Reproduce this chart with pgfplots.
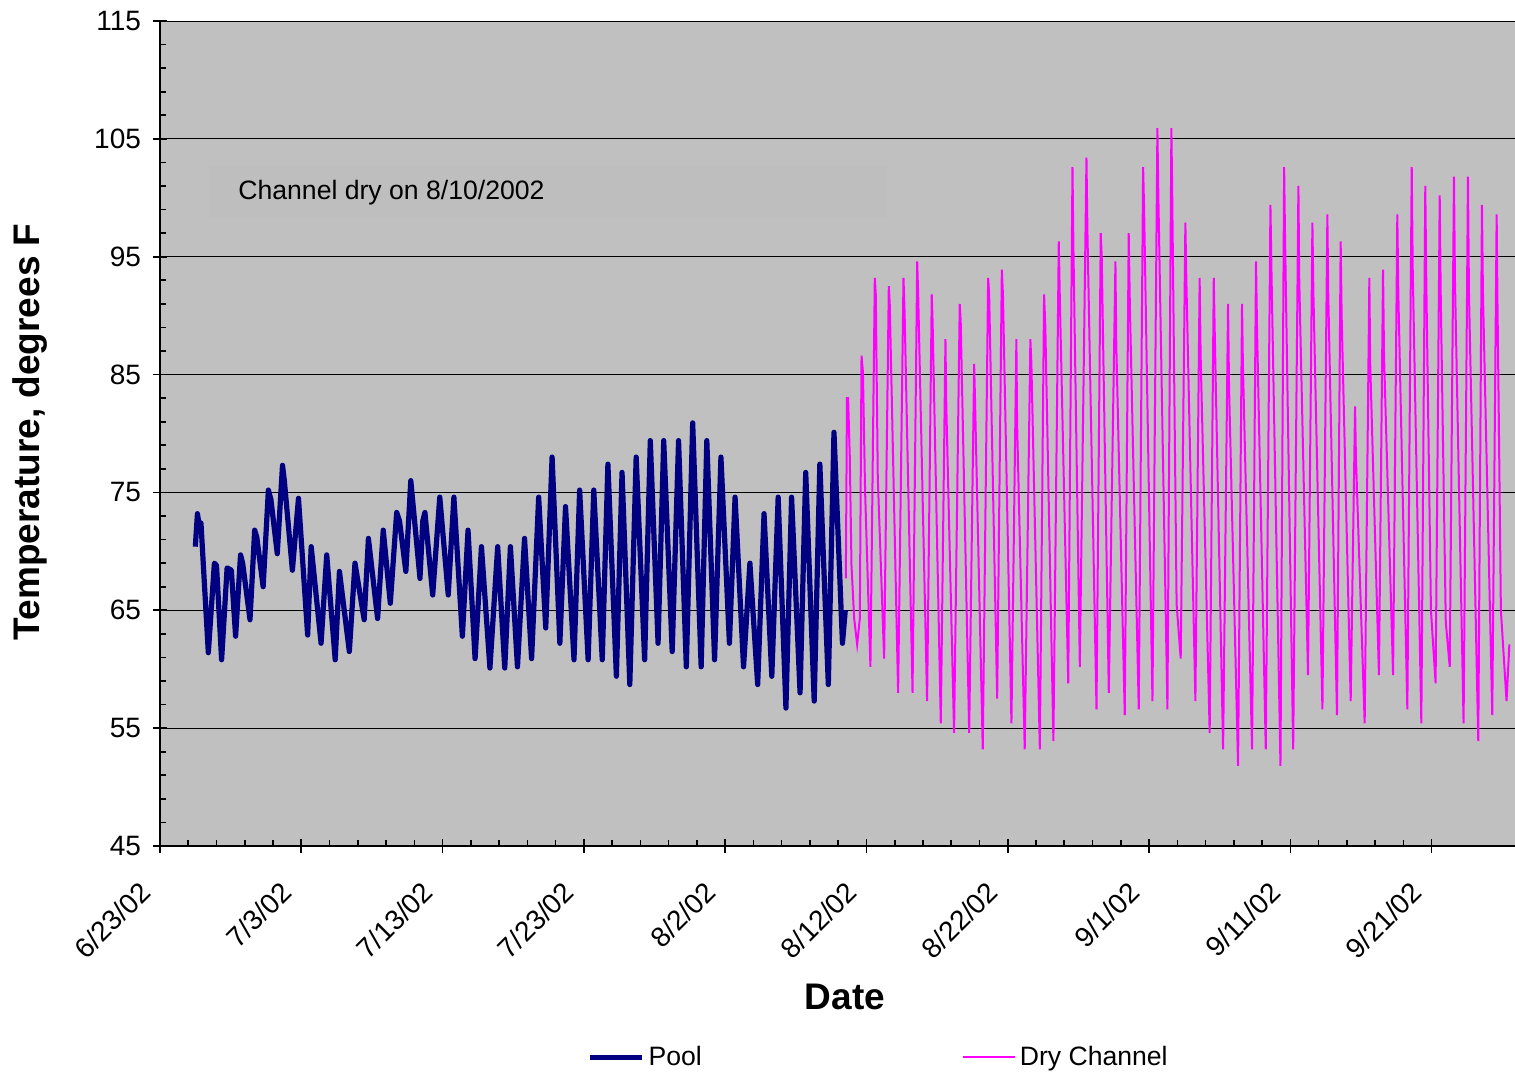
\documentclass[border=0pt]{standalone}
\usepackage{pgfplots}
\pgfplotsset{compat=1.18}
\usepackage{fontspec}
\setmainfont{Liberation Sans}
\definecolor{plotbg}{RGB}{192,192,192}
\definecolor{boxbg}{RGB}{190,190,190}
\definecolor{pool}{RGB}{0,0,128}
\definecolor{dry}{RGB}{255,0,255}
\begin{document}
\begin{tikzpicture}
\useasboundingbox (0pt,0pt) rectangle (757.5pt,535.5pt);
\begin{axis}[
  at={(80pt,112.5pt)}, anchor=south west,
  scale only axis, width=677.5pt, height=412.5pt,
  xmin=0, xmax=95.9, ymin=45, ymax=115,
  axis background/.style={fill=plotbg},
  axis x line=bottom, axis y line=left,
  axis line style={-, black, line width=1pt},
  xtick={0,10,...,90},
  xticklabels={6/23/02,7/3/02,7/13/02,7/23/02,8/2/02,8/12/02,8/22/02,9/1/02,9/11/02,9/21/02},
  ytick={45,55,...,115},
  minor x tick num=4, minor y tick num=4,
  tick align=inside,
  major tick length=3.5pt, minor tick length=3pt,
  tick style={black, line width=0.8pt},
  extra x ticks={0,10,...,90}, extra x tick labels={},
  extra x tick style={tick align=outside, grid=none},
  extra y ticks={45,55,...,115}, extra y tick labels={},
  extra y tick style={tick align=outside, grid=none},
  ymajorgrids, major grid style={black, line width=0.5pt},
  /pgf/number format/assume math mode=true,
  ticklabel style={font=\fontsize{14}{16}\selectfont},
  xticklabel style={xshift=-5pt, yshift=-18pt, rotate=45, anchor=east},
  yticklabel style={xshift=-6pt},
  xlabel={\textbf{Date}},
  ylabel={\textbf{Temperature, degrees F}},
  label style={font=\fontsize{18.5}{22}\selectfont},
  xlabel style={at={(axis description cs:0.5055,-0.183)}, anchor=center},
  ylabel style={at={(axis description cs:-0.096,0.502)}, anchor=center},
  legend style={at={(axis description cs:0.531,-0.256)}, anchor=center, draw=none, fill=none,
    font=\fontsize{13.3}{15}\selectfont,
    /tikz/every even column/.append style={column sep=128pt}},
  legend columns=2,
  legend image code/.code={\draw[#1] (0pt,0pt) -- (26pt,0pt);},
]
\fill[boxbg] (axis cs:3.47,102.8) rectangle (axis cs:51.44,98.3);
\node[anchor=west, font=\fontsize{13.3}{15}\selectfont, inner sep=0pt] at (axis cs:5.52,100.4) {Channel dry on 8/10/2002};
\addplot[pool, line width=2.6pt, line join=round] table {
2.50 70.4
2.65 73.2
2.80 72.0
2.90 72.4
3.42 61.4
3.85 69.0
4.00 68.8
4.36 60.8
4.75 68.6
5.05 68.4
5.35 62.8
5.70 69.7
5.85 69.0
6.37 64.2
6.70 71.8
6.85 71.2
7.30 67.0
7.67 75.2
7.85 74.4
8.30 69.8
8.67 77.3
8.80 76.0
9.37 68.4
9.80 74.5
10.45 62.9
10.70 70.4
11.40 62.2
11.80 69.7
12.40 60.8
12.70 68.3
13.40 61.5
13.80 69.0
14.45 64.2
14.75 71.1
15.40 64.3
15.80 71.8
16.30 65.6
16.75 73.3
16.95 72.6
17.40 68.3
17.75 76.0
18.40 67.7
18.60 72.6
18.75 73.3
19.30 66.3
19.80 74.6
20.40 66.3
20.80 74.6
21.40 62.8
21.80 71.8
22.30 60.9
22.75 70.4
23.35 60.1
23.90 70.4
24.40 60.1
24.80 70.4
25.30 60.2
25.80 71.1
26.30 60.9
26.80 74.6
27.30 63.5
27.75 78.0
28.30 62.2
28.70 73.8
29.30 60.8
29.70 75.2
30.30 60.8
30.70 75.2
31.30 60.8
31.70 77.4
32.30 59.4
32.70 76.7
33.25 58.7
33.70 78.0
34.30 60.8
34.70 79.4
35.25 62.2
35.65 79.4
36.25 61.5
36.70 79.4
37.25 60.2
37.70 80.9
38.30 60.2
38.70 79.4
39.25 60.8
39.70 78.0
40.30 62.2
40.70 74.6
41.30 60.2
41.75 69.0
42.30 58.7
42.75 73.2
43.30 59.4
43.75 74.6
44.30 56.7
44.70 74.6
45.30 58.0
45.70 76.7
46.30 57.3
46.70 77.4
47.30 58.7
47.70 80.1
48.30 62.2
48.50 65.0
};
\addlegendentry{Pool}
\addplot[dry, line width=1pt] table {
48.54 67.7
48.62 83.0
48.70 83.0
48.82 78.0
48.94 68.8
49.13 64.3
49.34 62.1
49.53 64.3
49.65 86.6
49.75 85.2
49.90 75.2
50.28 60.2
50.59 93.2
50.66 91.8
50.80 76.3
51.25 60.9
51.58 92.5
51.65 90.9
52.24 58.0
52.62 93.2
52.70 90.2
53.26 58.0
53.59 94.6
53.66 91.8
54.29 57.3
54.62 91.8
54.68 89.5
55.26 55.4
55.59 88.0
55.65 82.3
56.20 54.6
56.60 91.0
56.67 89.5
57.27 54.6
57.62 85.9
57.68 83.0
58.23 53.2
58.61 93.2
58.68 92.0
59.25 57.5
59.58 93.9
59.66 91.8
60.26 55.4
60.61 88.0
60.66 80.9
61.20 53.2
61.60 88.0
61.67 86.0
62.27 53.2
62.57 91.8
62.66 89.0
63.23 53.9
63.61 96.3
63.68 91.8
64.28 58.8
64.58 102.6
64.65 95.5
65.10 60.2
65.57 103.4
65.64 97.0
66.28 56.6
66.58 97.0
66.65 95.0
67.15 58.0
67.62 94.6
67.68 87.6
68.28 56.1
68.56 97.0
68.64 91.0
69.27 56.6
69.58 102.6
69.65 99.0
70.24 57.3
70.59 105.9
70.66 100.0
71.30 56.6
71.58 105.9
71.64 100.2
71.95 65.5
72.24 60.9
72.57 97.9
72.64 93.0
73.28 57.3
73.58 93.2
73.65 86.6
74.29 54.6
74.58 93.2
74.65 88.5
75.24 53.2
75.59 91.0
75.66 84.0
76.30 51.8
76.58 91.0
76.64 86.0
77.29 53.2
77.57 94.6
77.64 89.0
78.26 53.2
78.59 99.4
78.66 94.0
79.30 51.8
79.56 102.6
79.62 97.0
80.20 53.2
80.57 101.0
80.63 93.0
81.25 59.5
81.56 97.9
81.63 92.0
82.27 56.6
82.62 98.6
82.68 92.0
83.30 56.1
83.56 96.3
83.63 90.0
84.27 57.3
84.58 82.3
84.64 78.0
85.26 55.4
85.59 93.2
85.65 86.0
86.27 59.5
86.56 93.9
86.63 86.6
87.27 59.5
87.57 98.6
87.64 92.0
88.28 56.6
88.59 102.6
88.66 94.0
89.27 55.4
89.55 101.0
89.62 93.0
89.95 65.0
90.28 58.8
90.57 100.2
90.64 92.0
91.00 64.0
91.28 60.2
91.58 101.8
91.65 93.0
92.26 55.4
92.57 101.8
92.64 92.0
93.30 53.9
93.56 99.4
93.63 92.0
94.29 56.1
94.60 98.6
94.66 91.0
94.75 81.6
94.90 65.0
95.30 57.3
95.50 62.1
};
\addlegendentry{Dry Channel}
\end{axis}
\end{tikzpicture}
\end{document}
